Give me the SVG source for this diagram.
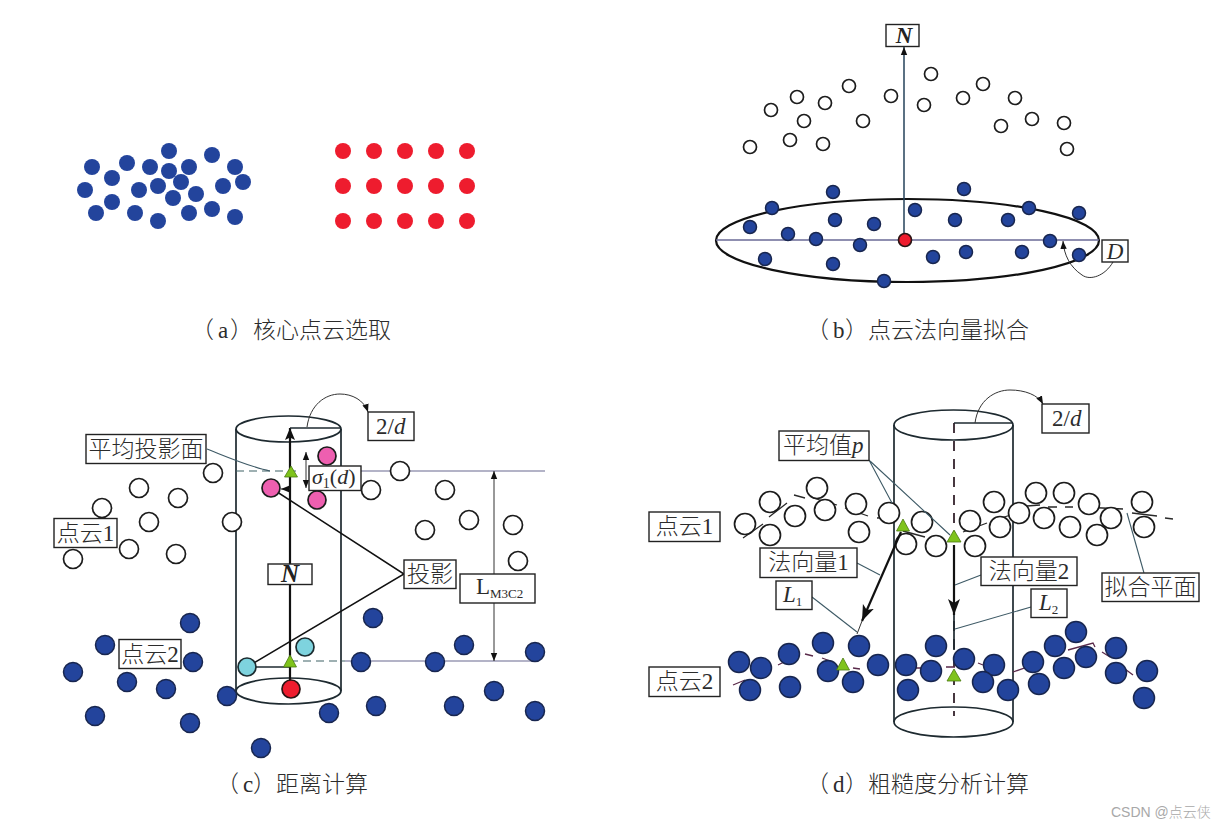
<svg xmlns="http://www.w3.org/2000/svg" width="1226" height="828" viewBox="0 0 1226 828">
<style>
text{font-family:"Liberation Serif","Noto Sans CJK SC",serif;font-size:23px;fill:#2c2c2c;font-weight:300}
.t{text-anchor:middle}
.i{font-style:italic}
.bi{font-style:italic;font-weight:bold;fill:#222}
.box{fill:#fff;stroke:#222;stroke-width:1.4}
.a circle{fill:#23449c;stroke:none}
.r circle{fill:#ee1c2e;stroke:none}
.h circle{fill:#fff;stroke:#1c1c1c;stroke-width:1.7}
.b circle{fill:#23449c;stroke:#18264f;stroke-width:1.5}
.pk{fill:#ee5fb0;stroke:#1c1c1c;stroke-width:1.7}
.cy{fill:#7ed3de;stroke:#1c2c30;stroke-width:1.7}
.rd{fill:#ee1c2e;stroke:#2a1414;stroke-width:1.7}
.tri{fill:#7fc31c;stroke:#4a7a10;stroke-width:.8}
.l{fill:none;stroke:#1e2a30;stroke-width:1.7}
.k{fill:none;stroke:#111;stroke-width:2.2}
.th{fill:none;stroke:#333;stroke-width:1}
.lead{fill:none;stroke:#3e5a66;stroke-width:1.1}
.gl{fill:none;stroke:#9a9ab4;stroke-width:1.3}
.dash{fill:none;stroke:#3f6266;stroke-width:1.2;stroke-dasharray:8 5}
.wave{fill:none;stroke:#2a2a2a;stroke-width:1.3}
.wave2{fill:none;stroke:#5a2a4a;stroke-width:1.3}
</style>
<defs>
<marker id="ah" markerUnits="userSpaceOnUse" markerWidth="12" markerHeight="14" viewBox="0 0 12 14" refX="12" refY="7" orient="auto-start-reverse"><path d="M0,2 L12,7 L0,12 L2.5,7 Z" fill="#111"/></marker>
<marker id="as" markerUnits="userSpaceOnUse" markerWidth="8" markerHeight="8" viewBox="0 0 8 8" refX="8" refY="4" orient="auto-start-reverse"><path d="M0,.8 L8,4 L0,7.2 Z" fill="#111"/></marker>
<marker id="al" markerUnits="userSpaceOnUse" markerWidth="16" markerHeight="14" viewBox="0 0 16 14" refX="16" refY="7" orient="auto-start-reverse"><path d="M0,1 L16,7 L0,13 L4,7 Z" fill="#111"/></marker>
</defs>
<rect width="1226" height="828" fill="#fff"/>

<g id="panel-a-blue" class="a">
<circle cx="92" cy="167" r="8"/><circle cx="127" cy="163" r="8"/><circle cx="112" cy="178" r="8"/><circle cx="85" cy="190" r="8"/><circle cx="112" cy="202" r="8"/><circle cx="96" cy="213" r="8"/><circle cx="135" cy="213" r="8"/><circle cx="139" cy="190" r="8"/><circle cx="150" cy="167" r="8"/><circle cx="169" cy="151" r="8"/><circle cx="169" cy="171" r="8"/><circle cx="189" cy="167" r="8"/><circle cx="158" cy="186" r="8"/><circle cx="181" cy="182" r="8"/><circle cx="173" cy="198" r="8"/><circle cx="196" cy="194" r="8"/><circle cx="212" cy="155" r="8"/><circle cx="235" cy="167" r="8"/><circle cx="243" cy="182" r="8"/><circle cx="223" cy="186" r="8"/><circle cx="158" cy="221" r="8"/><circle cx="189" cy="213" r="8"/><circle cx="212" cy="209" r="8"/><circle cx="235" cy="217" r="8"/>
</g>
<g id="panel-a-red" class="r">
<circle cx="343" cy="151" r="8"/><circle cx="374" cy="151" r="8"/><circle cx="405" cy="151" r="8"/><circle cx="436" cy="151" r="8"/><circle cx="467" cy="151" r="8"/>
<circle cx="343" cy="186" r="8"/><circle cx="374" cy="186" r="8"/><circle cx="405" cy="186" r="8"/><circle cx="436" cy="186" r="8"/><circle cx="467" cy="186" r="8"/>
<circle cx="343" cy="221" r="8"/><circle cx="374" cy="221" r="8"/><circle cx="405" cy="221" r="8"/><circle cx="436" cy="221" r="8"/><circle cx="467" cy="221" r="8"/>
</g>
<text id="caption-a" y="338"><tspan x="191">（</tspan><tspan x="218">a</tspan><tspan x="230">）</tspan><tspan x="253">核心点云选取</tspan></text>

<g id="panel-b-connectors">
<ellipse cx="907.500" cy="240.500" rx="191.500" ry="41.500" fill="none" stroke="#111" stroke-width="2.2"/>
<path d="M716,240H1099" fill="none" stroke="#6a6a96" stroke-width="1.4"/>
<path d="M904,240V47" fill="none" stroke="#24425a" stroke-width="1.5" marker-end="url(#as)"/>
<path d="M1113,262C1105,276 1090,281 1082,275C1070,267 1064,255 1063,241" class="th" marker-end="url(#as)"/>
</g>
<g id="panel-b-hollow" class="h">
<circle cx="750" cy="147" r="6.500"/><circle cx="771" cy="110" r="6.500"/><circle cx="797" cy="97" r="6.500"/><circle cx="825" cy="103" r="6.500"/><circle cx="849" cy="86" r="6.500"/><circle cx="804" cy="121" r="6.500"/><circle cx="790" cy="140" r="6.500"/><circle cx="823" cy="144" r="6.500"/><circle cx="863" cy="121" r="6.500"/><circle cx="891" cy="96" r="6.500"/><circle cx="931" cy="74" r="6.500"/><circle cx="924" cy="105" r="6.500"/><circle cx="963" cy="98" r="6.500"/><circle cx="983" cy="84" r="6.500"/><circle cx="1015" cy="98" r="6.500"/><circle cx="1001" cy="126" r="6.500"/><circle cx="1032" cy="119" r="6.500"/><circle cx="1064" cy="123" r="6.500"/><circle cx="1067" cy="149" r="6.500"/>
</g>
<g id="panel-b-blue" class="b">
<circle cx="833" cy="192" r="6.500"/><circle cx="964" cy="189" r="6.500"/><circle cx="772" cy="208" r="6.500"/><circle cx="1029" cy="208" r="6.500"/><circle cx="1079" cy="213" r="6.500"/><circle cx="915" cy="210" r="6.500"/><circle cx="835" cy="220" r="6.500"/><circle cx="874" cy="224" r="6.500"/><circle cx="955" cy="220" r="6.500"/><circle cx="1008" cy="220" r="6.500"/><circle cx="750" cy="227" r="6.500"/><circle cx="788" cy="234" r="6.500"/><circle cx="816" cy="239" r="6.500"/><circle cx="860" cy="245" r="6.500"/><circle cx="1050" cy="241" r="6.500"/><circle cx="765" cy="259" r="6.500"/><circle cx="833" cy="264" r="6.500"/><circle cx="933" cy="257" r="6.500"/><circle cx="966" cy="252" r="6.500"/><circle cx="1022" cy="252" r="6.500"/><circle cx="1079" cy="255" r="6.500"/><circle cx="884" cy="281" r="6.500"/>
</g>
<circle id="panel-b-center" cx="905" cy="240" r="6.500" class="rd"/>
<g id="label-b-N"><rect class="box" x="886" y="24.500" width="33" height="22"/><text class="t bi" x="904" y="43">N</text></g>
<g id="label-b-D"><rect class="box" x="1102" y="240" width="26" height="22"/><text class="t i" x="1115" y="259">D</text></g>
<text id="caption-b" y="338"><tspan x="806">（</tspan><tspan x="833">b</tspan><tspan x="845">）</tspan><tspan x="868">点云法向量拟合</tspan></text>

<g id="panel-c-connectors">
<ellipse cx="288.500" cy="429" rx="52.500" ry="13" class="l"/>
<path d="M236,429V691M341,429V691" class="l"/>
<ellipse cx="288.500" cy="691" rx="52.500" ry="13" class="l"/>
<path d="M236,471H300" class="dash"/>
<path d="M361,471H545" class="gl"/>
<path d="M290,661H345" class="dash"/>
<path d="M345,661H535" class="gl"/>
<path d="M247,667H290" class="l"/>
<path d="M290,689V428" class="k" marker-end="url(#ah)"/>
<path d="M290,428H341" class="l"/>
<path d="M307,427C310,405 325,394 340,394C352,394 364,400 368,412" class="th" marker-end="url(#as)"/>
<path d="M207,449C225,456 250,467 270,471" class="lead"/>
<path d="M290,489H281" class="th" marker-end="url(#as)"/>
<path d="M306,452V488" class="th" marker-start="url(#as)" marker-end="url(#as)"/>
<path d="M271,488L404,574L247,667" fill="none" stroke="#111" stroke-width="1.5"/>
<path d="M494,471V661" class="th" marker-start="url(#as)" marker-end="url(#as)"/>
</g>
<g id="panel-c-hollow" class="h">
<circle cx="213" cy="473" r="9.500"/><circle cx="139" cy="488" r="9.500"/><circle cx="178" cy="498" r="9.500"/><circle cx="102" cy="508" r="9.500"/><circle cx="149" cy="522" r="9.500"/><circle cx="232" cy="522" r="9.500"/><circle cx="129" cy="549" r="9.500"/><circle cx="176" cy="554" r="9.500"/><circle cx="73" cy="559" r="9.500"/><circle cx="400" cy="471" r="9.500"/><circle cx="371" cy="490" r="9.500"/><circle cx="445" cy="490" r="9.500"/><circle cx="469" cy="520" r="9.500"/><circle cx="425" cy="530" r="9.500"/><circle cx="513" cy="525" r="9.500"/><circle cx="518" cy="561" r="9.500"/>
</g>
<g id="panel-c-blue" class="b">
<circle cx="190" cy="623" r="9.500"/><circle cx="105" cy="645" r="9.500"/><circle cx="193" cy="662" r="9.500"/><circle cx="73" cy="672" r="9.500"/><circle cx="127" cy="682" r="9.500"/><circle cx="166" cy="689" r="9.500"/><circle cx="227" cy="696" r="9.500"/><circle cx="95" cy="716" r="9.500"/><circle cx="190" cy="723" r="9.500"/><circle cx="261" cy="748" r="9.500"/><circle cx="373" cy="618" r="9.500"/><circle cx="464" cy="645" r="9.500"/><circle cx="535" cy="652" r="9.500"/><circle cx="361" cy="662" r="9.500"/><circle cx="435" cy="662" r="9.500"/><circle cx="494" cy="691" r="9.500"/><circle cx="376" cy="706" r="9.500"/><circle cx="454" cy="706" r="9.500"/><circle cx="535" cy="711" r="9.500"/><circle cx="329" cy="713" r="9.500"/>
</g>
<g id="panel-c-special">
<circle class="pk" cx="271" cy="488" r="9"/><circle class="pk" cx="327" cy="456" r="9"/><circle class="pk" cx="317" cy="500" r="9"/>
<circle class="cy" cx="247" cy="667" r="9"/><circle class="cy" cx="305" cy="647" r="9"/>
<circle class="rd" cx="291" cy="689" r="9"/>
<polygon class="tri" points="291,466 297.500,477 284.500,477"/>
<polygon class="tri" points="290,655 296.500,667 283.500,667"/>
</g>
<g id="label-c-mean"><rect class="box" x="86" y="434.500" width="120" height="29"/><text class="t" x="146" y="457">平均投影面</text></g>
<g id="label-c-cloud1"><rect class="box" x="54" y="518.500" width="63" height="29"/><text class="t" x="85.500" y="541">点云1</text></g>
<g id="label-c-cloud2"><rect class="box" x="119" y="639.500" width="62" height="29"/><text class="t" x="150" y="662">点云2</text></g>
<g id="label-c-N"><rect class="box" x="268" y="564" width="44" height="20.500"/><text class="t bi" x="290" y="582" font-size="25" style="font-size:25px">N</text></g>
<g id="label-c-2d"><rect class="box" x="368" y="412" width="46" height="28.500"/><text x="376" y="434">2/<tspan class="i">d</tspan></text></g>
<g id="label-c-sigma"><rect class="box" x="309" y="466" width="52" height="24.500"/><text x="312" y="484" style="font-size:22px"><tspan class="i">σ</tspan><tspan font-size="14" dy="4">1</tspan><tspan dy="-4">(</tspan><tspan class="i">d</tspan>)</text></g>
<g id="label-c-proj"><rect class="box" x="404" y="560" width="52" height="28.500"/><text class="t" x="430" y="582">投影</text></g>
<g id="label-c-lm3c2"><rect class="box" x="460" y="574" width="75" height="29"/><text x="476" y="594">L<tspan font-size="13" dy="4">M3C2</tspan></text></g>
<text id="caption-c" y="792"><tspan x="216">（</tspan><tspan x="243">c</tspan><tspan x="253">）</tspan><tspan x="276">距离计算</tspan></text>

<g id="panel-d-connectors">
<ellipse cx="953.500" cy="425" rx="59.500" ry="15" class="l"/>
<path d="M894,425V722M1013,425V722" class="l"/>
<ellipse cx="953.500" cy="722" rx="59.500" ry="15" class="l"/>
<path d="M954,423V716" fill="none" stroke="#33222c" stroke-width="1.8" stroke-dasharray="10 8"/>
<path d="M954,423H1013" class="l"/>
<path d="M975,423C978,400 995,390 1010,390C1025,390 1038,395 1043,404" class="th" marker-end="url(#as)"/>
<path class="wave" d="M743,538L763,524M769,517L787,503M794,495L805,498M813,498L837,505M845,508L868,516M877,518L897,517M903,531L925,537M963,532L987,523M995,520L1020,512M1027,506L1040,505M1048,507L1057,507M1065,507L1073,507M1082,507L1123,509M1132,513L1157,516M1165,518L1173,519"/>
<path class="wave2" d="M733,685L745,680M778,665L788,660M805,654L813,656M822,658L833,662M853,668L860,669M906,668L935,668M946,667L955,667M978,663L983,665M997,668L1002,669M1013,672L1033,665M1068,650L1093,643L1095,647M1102,652L1110,657M1117,663L1133,675"/>
</g>
<g id="panel-d-hollow" class="h">
<circle cx="770" cy="502" r="10.500"/><circle cx="817" cy="488" r="10.500"/><circle cx="795" cy="516" r="10.500"/><circle cx="825" cy="510" r="10.500"/><circle cx="856" cy="504" r="10.500"/><circle cx="745" cy="524" r="10.500"/><circle cx="770" cy="535" r="10.500"/><circle cx="859" cy="532" r="10.500"/><circle cx="889" cy="513" r="10.500"/><circle cx="922" cy="522" r="10.500"/><circle cx="906" cy="544" r="10.500"/><circle cx="936" cy="546" r="10.500"/><circle cx="975" cy="546" r="10.500"/><circle cx="970" cy="521" r="10.500"/><circle cx="994" cy="502" r="10.500"/><circle cx="1000" cy="527" r="10.500"/><circle cx="1019" cy="513" r="10.500"/><circle cx="1036" cy="493" r="10.500"/><circle cx="1064" cy="493" r="10.500"/><circle cx="1044" cy="518" r="10.500"/><circle cx="1070" cy="527" r="10.500"/><circle cx="1089" cy="504" r="10.500"/><circle cx="1111" cy="518" r="10.500"/><circle cx="1097" cy="535" r="10.500"/><circle cx="1142" cy="502" r="10.500"/><circle cx="1144" cy="527" r="10.500"/>
</g>
<g id="panel-d-blue" class="b">
<circle cx="739" cy="662" r="10.500"/><circle cx="761" cy="668" r="10.500"/><circle cx="750" cy="690" r="10.500"/><circle cx="789" cy="654" r="10.500"/><circle cx="790" cy="687" r="10.500"/><circle cx="823" cy="643" r="10.500"/><circle cx="859" cy="646" r="10.500"/><circle cx="828" cy="671" r="10.500"/><circle cx="853" cy="682" r="10.500"/><circle cx="878" cy="665" r="10.500"/><circle cx="906" cy="665" r="10.500"/><circle cx="931" cy="671" r="10.500"/><circle cx="908" cy="690" r="10.500"/><circle cx="936" cy="646" r="10.500"/><circle cx="964" cy="659" r="10.500"/><circle cx="994" cy="665" r="10.500"/><circle cx="983" cy="682" r="10.500"/><circle cx="1008" cy="690" r="10.500"/><circle cx="1033" cy="662" r="10.500"/><circle cx="1039" cy="684" r="10.500"/><circle cx="1055" cy="646" r="10.500"/><circle cx="1076" cy="632" r="10.500"/><circle cx="1064" cy="668" r="10.500"/><circle cx="1086" cy="657" r="10.500"/><circle cx="1116" cy="648" r="10.500"/><circle cx="1116" cy="673" r="10.500"/><circle cx="1147" cy="671" r="10.500"/><circle cx="1144" cy="698" r="10.500"/>
</g>
<g id="panel-d-overlay">
<path d="M869,460L892,503M870,461L950,535" class="lead"/>
<path d="M857,563L880,575" class="lead"/>
<path d="M812,597L857,632" class="lead"/>
<path d="M981,575L955,585" class="lead"/>
<path d="M1031,607L955,629" class="lead"/>
<path d="M1144,573L1127,513" class="lead"/>
<path d="M901,532L862,621" class="k" marker-end="url(#al)"/>
<path d="M862,621L857,634" class="th"/>
<path d="M954,545V615" class="k" marker-end="url(#al)"/>
<path d="M954,615V650" class="l"/>
<polygon class="tri" points="903,519 909.500,531 896.500,531"/>
<polygon class="tri" points="843,658 849.500,670 836.500,670"/>
<polygon class="tri" points="954,530 961,542 947,542"/>
<polygon class="tri" points="954,669 961,681 947,681"/>
</g>
<g id="label-d-mean"><rect class="box" x="779" y="431" width="90" height="29.500"/><text x="783" y="453">平均值<tspan class="i">p</tspan></text></g>
<g id="label-d-cloud1"><rect class="box" x="649" y="512" width="71" height="29.500"/><text class="t" x="684.500" y="534">点云1</text></g>
<g id="label-d-cloud2"><rect class="box" x="649" y="667" width="71" height="29.500"/><text class="t" x="684.500" y="689">点云2</text></g>
<g id="label-d-normal1"><rect class="box" x="760" y="548" width="97" height="29.500"/><text class="t" x="808.500" y="570">法向量1</text></g>
<g id="label-d-L1"><rect class="box" x="776" y="581" width="36" height="28.500"/><text x="783" y="602"><tspan class="i">L</tspan><tspan font-size="13" dy="4">1</tspan></text></g>
<g id="label-d-normal2"><rect class="box" x="981" y="557" width="96" height="28.500"/><text class="t" x="1029" y="579">法向量2</text></g>
<g id="label-d-L2"><rect class="box" x="1031" y="589" width="36" height="28.500"/><text x="1039" y="610"><tspan class="i">L</tspan><tspan font-size="13" dy="4">2</tspan></text></g>
<g id="label-d-plane"><rect class="box" x="1102" y="573" width="97" height="28.500"/><text class="t" x="1150.500" y="595">拟合平面</text></g>
<g id="label-d-2d"><rect class="box" x="1042" y="404" width="47" height="29"/><text x="1052" y="426">2/<tspan class="i">d</tspan></text></g>
<text id="caption-d" y="792"><tspan x="806">（</tspan><tspan x="833">d</tspan><tspan x="845">）</tspan><tspan x="868">粗糙度分析计算</tspan></text>
<text id="watermark" x="1111" y="817" style="font-family:'Liberation Sans','Noto Sans CJK SC',sans-serif;font-size:14px;fill:#a8a8a8">CSDN @点云侠</text>
</svg>
